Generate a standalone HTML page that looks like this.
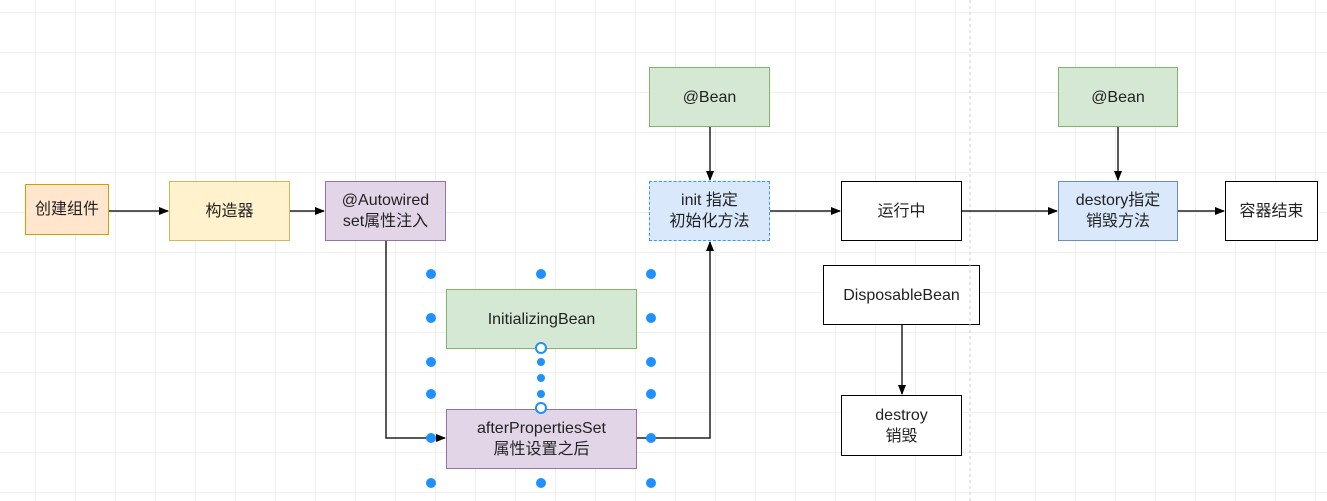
<!DOCTYPE html>
<html><head><meta charset="utf-8"><style>
body{margin:0;width:1327px;height:501px;overflow:hidden;background:#fff;
background-image:linear-gradient(#f0f0f0 1px,transparent 1px),linear-gradient(90deg,#f0f0f0 1px,transparent 1px);background-size:40px 40px;background-position:-5px 12px;
font-family:"Liberation Sans","Noto Sans CJK SC",sans-serif;}
.b{position:absolute;box-sizing:border-box;display:flex;align-items:center;justify-content:center;text-align:center;font-size:16px;line-height:21px;color:#222;border:1.5px solid #000;}
.g{background:#d5e8d4;border-color:#82b366}
.p{background:#e1d5e7;border-color:#9673a6}
.bl{background:#dae8fc;border-color:#6c8ebf}
svg{position:absolute;left:0;top:0}
</style></head><body>
<div class="b" style="left:25px;top:184px;width:84px;height:51px;background:#ffe6cc;border-color:#d79b00">创建组件</div>
<div class="b" style="left:169px;top:181px;width:121px;height:60px;background:#fff2cc;border-color:#d6b656">构造器</div>
<div class="b p" style="left:325px;top:181px;width:121px;height:60px">@Autowired<br>set属性注入</div>
<div class="b g" style="left:649px;top:67px;width:121px;height:60px">@Bean</div>
<div class="b bl" style="left:649px;top:181px;width:121px;height:60px;border:1px dashed #3399ff">init 指定<br>初始化方法</div>
<div class="b" style="left:841px;top:181px;width:121px;height:60px;background:#fff">运行中</div>
<div class="b g" style="left:1058px;top:67px;width:120px;height:60px">@Bean</div>
<div class="b bl" style="left:1058px;top:181px;width:120px;height:60px">destory指定<br>销毁方法</div>
<div class="b" style="left:1225px;top:181px;width:93px;height:60px;background:#fff">容器结束</div>
<div class="b" style="left:823px;top:265px;width:157px;height:60px;background:#fff">DisposableBean</div>
<div class="b" style="left:841px;top:395px;width:121px;height:61px;background:#fff">destroy<br>销毁</div>
<div class="b g" style="left:446px;top:289px;width:191px;height:60px">InitializingBean</div>
<div class="b p" style="left:446px;top:409px;width:191px;height:60px">afterPropertiesSet<br>属性设置之后</div>
<svg width="1327" height="501">
<defs><marker id="a" markerWidth="10" markerHeight="10" refX="9" refY="5" orient="auto" markerUnits="userSpaceOnUse"><path d="M0,1 L10,5 L0,9 z" fill="#000"/></marker></defs>
<line x1="970" y1="0" x2="970" y2="501" stroke="#ccc" stroke-dasharray="3,3"/>
<g stroke="#222" stroke-width="1.5" fill="none" marker-end="url(#a)">
<path d="M109,211 H168"/><path d="M290,211 H324"/>
<path d="M386,241 V438 H445"/><path d="M637,438 H710 V242"/>
<path d="M710,127 V180"/><path d="M770,211 H840"/><path d="M962,211 H1057"/>
<path d="M1118,127 V180"/><path d="M1178,211 H1224"/><path d="M902,325 V394"/>
</g>
<g fill="#1e90ff">
<circle cx="431" cy="274" r="5"/><circle cx="541" cy="274" r="5"/><circle cx="651" cy="274" r="5"/>
<circle cx="431" cy="318" r="5"/><circle cx="651" cy="318" r="5"/>
<circle cx="431" cy="362" r="5"/><circle cx="651" cy="362" r="5"/>
<circle cx="431" cy="394" r="5"/><circle cx="651" cy="394" r="5"/>
<circle cx="431" cy="438" r="5"/><circle cx="651" cy="438" r="5"/>
<circle cx="431" cy="483" r="5"/><circle cx="541" cy="483" r="5"/><circle cx="651" cy="483" r="5"/>
<circle cx="541" cy="362" r="4"/><circle cx="541" cy="378" r="4"/><circle cx="541" cy="394" r="4"/>
</g>
<g fill="#fff" stroke="#1e90ff" stroke-width="2"><circle cx="541" cy="348" r="5"/><circle cx="541" cy="408" r="5"/></g>
</svg>
</body></html>
